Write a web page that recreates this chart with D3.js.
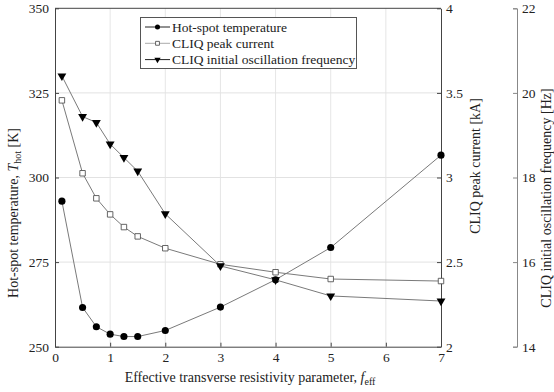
<!DOCTYPE html>
<html lang="en">
	<head>
		<meta charset="utf-8">
		<title>Hot-spot temperature and CLIQ vs f_eff</title>
		<script type="text/javascript" src="https://cdn.jsdelivr.net/npm/d3@7"></script>
		<style type="text/css">
			body { margin: 0; background: #fff; }
			svg text { font-family: "Liberation Serif", "Times New Roman", serif; fill: #222; }
		</style>
	</head>
	<body>
		<script type="text/javascript">

			// data
			var fEff = [0.125, 0.5, 0.75, 1, 1.25, 1.5, 2, 3, 4, 5, 7];
			var hotSpot = [293.0, 261.6, 255.9, 253.7, 253.0, 253.0, 254.8, 261.7, 269.8, 279.3, 306.6];
			var peakCurrent = [3.456, 3.025, 2.877, 2.782, 2.707, 2.652, 2.582, 2.487, 2.44, 2.40, 2.388];
			var oscFreq = [20.40, 19.44, 19.30, 18.79, 18.47, 18.15, 17.14, 15.91, 15.58, 15.20, 15.08];

			var xTicks = [0, 1, 2, 3, 4, 5, 6, 7];
			var tTicks = [250, 275, 300, 325, 350];
			var iTicks = [2, 2.5, 3, 3.5, 4];
			var fTicks = [14, 16, 18, 20, 22];
			var legendNames = ["Hot-spot temperature", "CLIQ peak current", "CLIQ initial oscillation frequency"];

			var w = 554, h = 392;
			// plot box (note: "top" is reserved on window, so use p* names)
			var pL = 55, pR = 441, pT = 8.3, pB = 346.7;
			var thirdX = 517;

			var x = d3.scaleLinear().domain([0, 7]).range([pL, pR]);
			var yT = d3.scaleLinear().domain([250, 350]).range([pB, pT]);
			var yI = d3.scaleLinear().domain([2, 4]).range([pB, pT]);
			var yF = d3.scaleLinear().domain([14, 22]).range([pB, pT]);

			var svg = d3.select("body").append("svg")
				.attr("width", w)
				.attr("height", h);

			// grid
			var grid = svg.append("g");
			grid.selectAll("line.vg")
				.data(xTicks.slice(1, -1))
				.enter().append("line")
				.attr("x1", function(d) { return x(d); })
				.attr("x2", function(d) { return x(d); })
				.attr("y1", pT).attr("y2", pB)
				.style("stroke", "#e6e6e6");
			grid.selectAll("line.hg")
				.data(tTicks.slice(1, -1))
				.enter().append("line")
				.attr("x1", pL).attr("x2", pR)
				.attr("y1", function(d) { return yT(d); })
				.attr("y2", function(d) { return yT(d); })
				.style("stroke", "#e2e2e2");

			// axes
			function styleAxis(g, col) {
				g.selectAll("text").style("font-size", "13.5px").style("fill", "#222")
					.style("font-family", "'Liberation Serif', serif");
				g.selectAll("line").style("stroke", col);
				g.select(".domain").style("stroke", col);
			}

			svg.append("g")
				.attr("transform", "translate(0," + pB + ")")
				.call(d3.axisBottom(x).tickValues(xTicks).tickFormat(d3.format("d"))
					.tickSizeInner(-4).tickSizeOuter(0).tickPadding(6))
				.call(styleAxis, "#444");

			svg.append("g")
				.attr("transform", "translate(" + pL + ",0)")
				.call(d3.axisLeft(yT).tickValues(tTicks)
					.tickSizeInner(-4).tickSizeOuter(0).tickPadding(6))
				.call(styleAxis, "#444");

			svg.append("g")
				.attr("transform", "translate(" + pR + ",0)")
				.call(d3.axisRight(yI).tickValues(iTicks).tickFormat(function(d) { return d; })
					.tickSizeInner(-4).tickSizeOuter(0).tickPadding(5))
				.call(styleAxis, "#444");

			// top edge of box
			svg.append("line")
				.attr("x1", pL).attr("x2", pR)
				.attr("y1", pT).attr("y2", pT)
				.style("stroke", "#444");

			svg.append("g")
				.attr("transform", "translate(" + thirdX + ",0)")
				.call(d3.axisRight(yF).tickValues(fTicks)
					.tickSizeInner(-4).tickSizeOuter(-4).tickPadding(5))
				.call(styleAxis, "#888");

			// axis labels
			var lt = svg.append("text")
				.attr("transform", "translate(18,213) rotate(-90)")
				.attr("text-anchor", "middle")
				.style("font-size", "14px");
			lt.append("tspan").text("Hot-spot temperature, ");
			lt.append("tspan").style("font-style", "italic").text("T");
			lt.append("tspan").attr("dy", 3).style("font-size", "10px").text("hot");
			lt.append("tspan").attr("dy", -3).text(" [K]");

			svg.append("text")
				.attr("transform", "translate(480,166) rotate(-90)")
				.attr("text-anchor", "middle")
				.style("font-size", "14px")
				.text("CLIQ peak current [kA]");

			svg.append("text")
				.attr("transform", "translate(550.5,198) rotate(-90)")
				.attr("text-anchor", "middle")
				.style("font-size", "14px")
				.text("CLIQ initial oscillation frequency [Hz]");

			var xl = svg.append("text")
				.attr("x", 250).attr("y", 382)
				.attr("text-anchor", "middle")
				.style("font-size", "14px");
			xl.append("tspan").text("Effective transverse resistivity parameter, ");
			xl.append("tspan").style("font-style", "italic").text("f");
			xl.append("tspan").attr("dy", 3).style("font-size", "10px").text("eff");

			// series
			var series = [
				{ vals: hotSpot, y: yT, marker: "circle" },
				{ vals: peakCurrent, y: yI, marker: "square" },
				{ vals: oscFreq, y: yF, marker: "triangle" }
			];

			var symType = { circle: d3.symbolCircle, square: d3.symbolSquare, triangle: d3.symbolTriangle };
			var symSize = { circle: 40, square: 30, triangle: 34 };

			function drawMarker(g, kind, scale) {
				var p = g.append("path").attr("d", d3.symbol().type(symType[kind]).size(symSize[kind] * scale)());
				if (kind == "square") {
					p.style("fill", "#fff").style("stroke", "#555").style("stroke-width", 0.9);
				} else {
					p.style("fill", "#000");
				}
				if (kind == "triangle") p.attr("transform", "rotate(180)");
			}

			series.forEach(function(s) {
				var pts = fEff.map(function(f, i) { return [f, s.vals[i]]; });
				svg.append("path")
					.datum(pts)
					.attr("d", d3.line().x(function(d) { return x(d[0]); }).y(function(d) { return s.y(d[1]); }))
					.style("fill", "none")
					.style("stroke", "#7a7a7a")
					.style("stroke-width", 1);
				svg.selectAll(null)
					.data(pts)
					.enter().append("g")
					.attr("transform", function(d) { return "translate(" + x(d[0]) + "," + s.y(d[1]) + ")"; })
					.each(function() { drawMarker(d3.select(this), s.marker, 1); });
			});

			// legend
			var lg = svg.append("g");
			lg.append("rect")
				.attr("x", 140.5).attr("y", 17.5)
				.attr("width", 216).attr("height", 51)
				.style("fill", "#fff").style("stroke", "#555");
			legendNames.forEach(function(nm, i) {
				var yy = 27 + i * 16.3;
				var row = lg.append("g");
				row.append("line")
					.attr("x1", 145).attr("x2", 170)
					.attr("y1", yy).attr("y2", yy)
					.style("stroke", i == 1 ? "#aaa" : "#222");
				var m = row.append("g").attr("transform", "translate(157.5," + yy + ")");
				drawMarker(m, series[i].marker, 0.5);
				row.append("text")
					.attr("x", 172).attr("y", yy + 4.5)
					.style("font-size", "13.5px")
					.text(nm);
			});
		</script>
	</body>
</html>
